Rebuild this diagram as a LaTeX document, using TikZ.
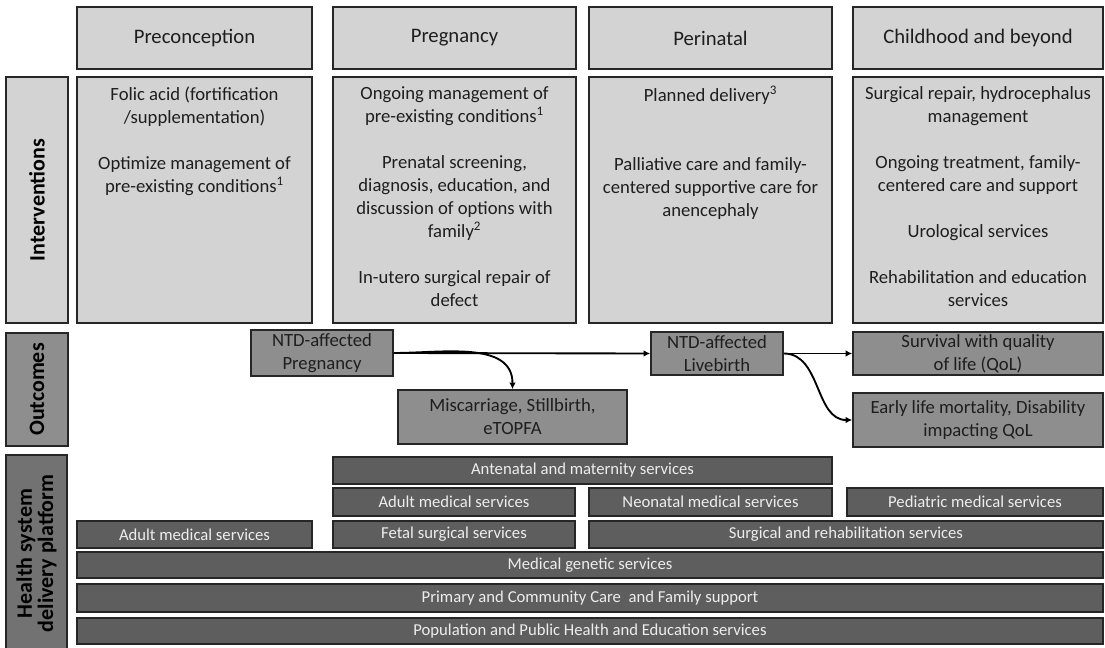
\documentclass[tikz,border=0pt]{standalone}
\usepackage{fontspec}
\setmainfont{Carlito}
\usepackage{tikz}
\usetikzlibrary{arrows.meta}
\tikzset{>={Latex[width=5pt,length=5pt]}}
\definecolor{lightgr}{HTML}{D3D3D3}
\definecolor{midgr}{HTML}{8E8E8E}
\definecolor{darkgr}{HTML}{5E5E5E}
\definecolor{sidegr}{HTML}{727272}
\definecolor{edge}{HTML}{262626}
\definecolor{ink}{HTML}{1E1E1E}
\tikzset{
  phase/.style={fill=lightgr, draw=edge, line width=1.3pt, text=ink,
    font=\fontsize{15.5}{18}\selectfont},
  ivbox/.style={fill=lightgr, draw=edge, line width=1.3pt},
  ivtext/.style={align=center, inner sep=0pt, text=ink,
    font=\fontsize{14}{17.25}\selectfont},
  outc/.style={fill=midgr, draw=edge, line width=1.2pt, align=center, text=ink,
    font=\fontsize{14}{17.25}\selectfont},
  svc/.style={fill=darkgr, draw=edge, line width=1.2pt, text=white!93!black,
    font=\fontsize{12.5}{15}\selectfont},
  sidebox/.style={draw=edge, line width=1.3pt},
  sidetext/.style={rotate=90, align=center, text=black,
    font=\fontsize{16.5}{16}\selectfont\bfseries},
  flow/.style={->, line width=1.4pt},
}

\begin{document}
\begin{tikzpicture}[x=0.75pt, y=-0.75pt]

%% box from its corners, in pixels of the figure
\newcommand\boxnode[6]{\node[#2, inner sep=0pt,
  minimum width={(#5-#3)*0.75pt}, minimum height={(#6-#4)*0.75pt}]
  (#1) at ({(#3+#5)/2},{(#4+#6)/2})}

\useasboundingbox (0,0) rectangle (1105,648); %% spacing

% phases
\boxnode{pre}{phase}{77}{7}{312}{69} {Preconception};
\boxnode{preg}{phase}{333}{7}{576}{69} {Pregnancy};
\boxnode{peri}{phase}{589}{7}{832}{69} {Perinatal};
\boxnode{child}{phase}{853}{7}{1103}{69} {Childhood and beyond};

% interventions
\boxnode{ivside}{sidebox, fill=lightgr}{6}{77}{68}{323} {};
\node[sidetext] (ivlab) at (ivside) {Interventions};
\boxnode{iv1}{ivbox}{77}{77}{312}{323} {};
\boxnode{iv2}{ivbox}{333}{77}{576}{323} {};
\boxnode{iv3}{ivbox}{589}{77}{832}{323} {};
\boxnode{iv4}{ivbox}{853}{77}{1103}{323} {};

\node[ivtext, anchor=north] (iv1t) at ([yshift=-7.5pt]iv1.north)
{Folic acid (fortification\\/supplementation)\\[17.25pt]
Optimize management of\\pre-existing conditions\textsuperscript{1}};
\node[ivtext, anchor=north] (iv2t) at ([yshift=-7.5pt]iv2.north)
{Ongoing management of\\pre-existing conditions\textsuperscript{1}\\[17.25pt]
Prenatal screening,\\diagnosis, education, and\\discussion of options with\\
family\textsuperscript{2}\\[17.25pt]
In-utero surgical repair of\\defect};
\node[ivtext, anchor=north] (iv3t) at ([yshift=-7.5pt]iv3.north)
{Planned delivery\textsuperscript{3}\\[34.5pt]
Palliative care and family-\\centered supportive care for\\anencephaly};
\node[ivtext, anchor=north] (iv4t) at ([yshift=-7.5pt]iv4.north)
{Surgical repair, hydrocephalus\\management\\[17.25pt]
Ongoing treatment, family-\\centered care and support\\[17.25pt]
Urological services\\[17.25pt]
Rehabilitation and education\\services};

% outcomes
\boxnode{outside}{sidebox, fill=midgr}{6}{333}{68}{446} {};
\node[sidetext] (outlab) at (outside) {Outcomes};
\boxnode{ntdp}{outc}{251}{330}{393}{376} {NTD-affected\\Pregnancy};
\boxnode{misc}{outc}{398}{390}{627}{444} {Miscarriage, Stillbirth,\\eTOPFA};
\boxnode{ntdl}{outc}{651}{332}{783}{375} {NTD-affected\\Livebirth};
\boxnode{surv}{outc}{853}{332}{1103}{375} {Survival with quality\\of life (QoL)};
\boxnode{early}{outc}{853}{393}{1103}{447} {Early life mortality, Disability\\impacting QoL};

\draw[flow] (ntdp.east) -- (ntdl.west);
\draw[flow] (ntdp.east) to[out=0, in=90] (misc.north);
\draw[flow] (ntdl.east) -- (surv.west);
\draw[flow] (ntdl.east) to[out=0, in=180] (early.west);

% health system
\boxnode{hsside}{sidebox, fill=sidegr}{6}{455}{67}{652} {};
\node[sidetext] (hslab) at (hsside) {Health system\\delivery platform};
\boxnode{ante}{svc}{333}{457}{832}{484} {Antenatal and maternity services};
\boxnode{adultb}{svc}{333}{488}{575}{516} {Adult medical services};
\boxnode{neo}{svc}{589}{488}{832}{516} {Neonatal medical services};
\boxnode{ped}{svc}{847}{488}{1103}{516} {Pediatric medical services};
\boxnode{adulta}{svc}{77}{521}{312}{548} {Adult medical services};
\boxnode{fetal}{svc}{333}{521}{575}{548} {Fetal surgical services};
\boxnode{surg}{svc}{589}{521}{1103}{548} {Surgical and rehabilitation services};
\boxnode{gen}{svc}{77}{552}{1103}{578} {Medical genetic services};
\boxnode{prim}{svc}{77}{584}{1103}{612} {Primary and Community Care~ and Family support};
\boxnode{pop}{svc}{77}{618}{1103}{644} {Population and Public Health and Education services};

\end{tikzpicture}
\end{document}
